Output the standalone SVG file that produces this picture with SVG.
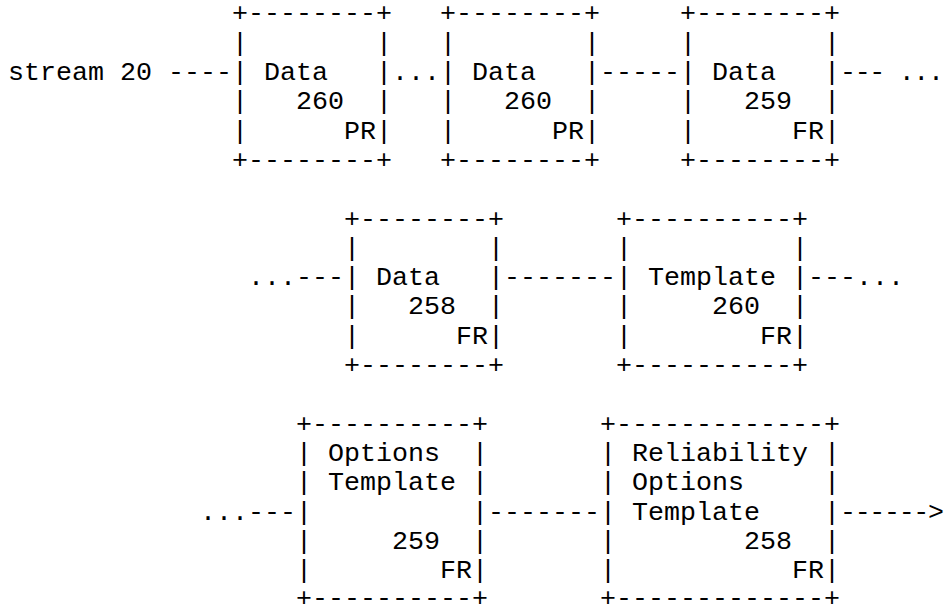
<svg xmlns="http://www.w3.org/2000/svg" width="946" height="608" viewBox="0 0 946 608">
<style>
text { font-family: "Liberation Mono", "Courier New", monospace; font-size: 26.667px; fill: #000; white-space: pre; }
</style>
<rect width="946" height="608" fill="#fff"/>
<g id="label"><text x="8" y="80" xml:space="preserve">stream 20 </text></g>
<g id="connectors">
<text x="168" y="80" xml:space="preserve">----</text>
<text x="392" y="80" xml:space="preserve">...</text>
<text x="600" y="80" xml:space="preserve">-----</text>
<text x="840" y="80" xml:space="preserve" textLength="104" lengthAdjust="spacing">--- ...</text>
<text x="248" y="285.1" xml:space="preserve">...---</text>
<text x="504" y="285.1" xml:space="preserve">-------</text>
<text x="808" y="285.1" xml:space="preserve">---...</text>
<text x="200" y="519.5" xml:space="preserve">...---</text>
<text x="488" y="519.5" xml:space="preserve">-------</text>
<text x="840" y="519.5" xml:space="preserve" textLength="104" lengthAdjust="spacing">------&gt;</text>
</g>
<g id="node-data-260-a">
<text x="232" y="21.4" xml:space="preserve">+--------+</text>
<text x="232" y="50.7" xml:space="preserve">|        |</text>
<text x="232" y="80" xml:space="preserve">| Data   |</text>
<text x="232" y="109.3" xml:space="preserve">|   260  |</text>
<text x="232" y="138.6" xml:space="preserve">|      PR|</text>
<text x="232" y="167.9" xml:space="preserve">+--------+</text>
</g>
<g id="node-data-260-b">
<text x="440" y="21.4" xml:space="preserve">+--------+</text>
<text x="440" y="50.7" xml:space="preserve">|        |</text>
<text x="440" y="80" xml:space="preserve">| Data   |</text>
<text x="440" y="109.3" xml:space="preserve">|   260  |</text>
<text x="440" y="138.6" xml:space="preserve">|      PR|</text>
<text x="440" y="167.9" xml:space="preserve">+--------+</text>
</g>
<g id="node-data-259">
<text x="680" y="21.4" xml:space="preserve">+--------+</text>
<text x="680" y="50.7" xml:space="preserve">|        |</text>
<text x="680" y="80" xml:space="preserve">| Data   |</text>
<text x="680" y="109.3" xml:space="preserve">|   259  |</text>
<text x="680" y="138.6" xml:space="preserve">|      FR|</text>
<text x="680" y="167.9" xml:space="preserve">+--------+</text>
</g>
<g id="node-data-258">
<text x="344" y="226.5" xml:space="preserve">+--------+</text>
<text x="344" y="255.8" xml:space="preserve">|        |</text>
<text x="344" y="285.1" xml:space="preserve">| Data   |</text>
<text x="344" y="314.4" xml:space="preserve">|   258  |</text>
<text x="344" y="343.7" xml:space="preserve">|      FR|</text>
<text x="344" y="373" xml:space="preserve">+--------+</text>
</g>
<g id="node-template-260">
<text x="616" y="226.5" xml:space="preserve">+----------+</text>
<text x="616" y="255.8" xml:space="preserve">|          |</text>
<text x="616" y="285.1" xml:space="preserve">| Template |</text>
<text x="616" y="314.4" xml:space="preserve">|     260  |</text>
<text x="616" y="343.7" xml:space="preserve">|        FR|</text>
<text x="616" y="373" xml:space="preserve">+----------+</text>
</g>
<g id="node-options-template-259">
<text x="296" y="431.6" xml:space="preserve">+----------+</text>
<text x="296" y="460.9" xml:space="preserve">| Options  |</text>
<text x="296" y="490.2" xml:space="preserve">| Template |</text>
<text x="296" y="519.5" xml:space="preserve">|          |</text>
<text x="296" y="548.8" xml:space="preserve">|     259  |</text>
<text x="296" y="578.1" xml:space="preserve">|        FR|</text>
<text x="296" y="606" xml:space="preserve">+----------+</text>
</g>
<g id="node-reliability-options-template-258">
<text x="600" y="431.6" xml:space="preserve">+-------------+</text>
<text x="600" y="460.9" xml:space="preserve">| Reliability |</text>
<text x="600" y="490.2" xml:space="preserve">| Options     |</text>
<text x="600" y="519.5" xml:space="preserve">| Template    |</text>
<text x="600" y="548.8" xml:space="preserve">|        258  |</text>
<text x="600" y="578.1" xml:space="preserve">|           FR|</text>
<text x="600" y="606" xml:space="preserve">+-------------+</text>
</g>
</svg>
